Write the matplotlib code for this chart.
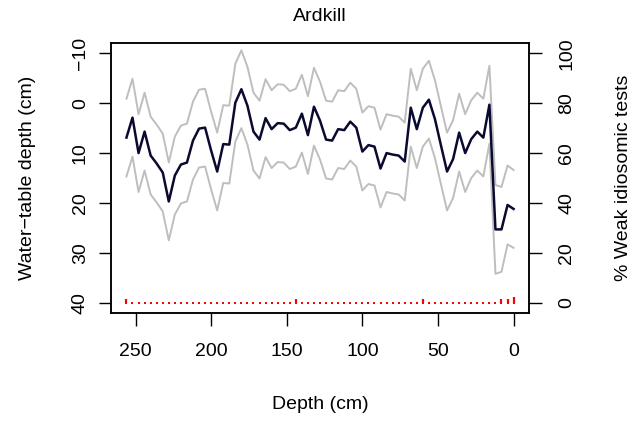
import numpy as np
import matplotlib
matplotlib.use("Agg")
import matplotlib.pyplot as plt

plt.rcParams['font.family'] = ['Liberation Sans', 'DejaVu Sans']
plt.rcParams['font.size'] = 14

# sample depths, 0 to 256 cm every 4 cm (deepest first)
depth = np.arange(256, -1, -4)

# reconstructed water-table depth (cm)
wtd = [6.9, 2.9, 10.0, 5.7, 10.5, 12.1, 13.9, 19.7, 14.5, 12.3,
       11.9, 7.5, 5.1, 4.9, 9.5, 13.7, 8.2, 8.3, -0.1, -2.8,
       0.5, 5.7, 7.3, 3.0, 5.2, 4.0, 4.1, 5.4, 4.9, 2.1,
       6.4, 0.7, 3.5, 7.3, 7.5, 5.2, 5.4, 3.7, 4.9, 9.7,
       8.4, 8.7, 13.1, 10.0, 10.3, 10.5, 11.7, 0.9, 5.2, 0.9,
       -0.7, 3.2, 8.5, 13.7, 11.2, 5.9, 10.0, 7.2, 5.7, 6.9,
       0.3, 25.3, 25.3, 20.4, 21.2]

# sample specific errors (cm)
err = [7.8] * 61 + [8.9, 8.5, 7.9, 7.8]

# % weak idiosomic tests
weak = [0.0] * 65
weak[0] = 1.3    # 256 cm
weak[28] = 1.3   # 144 cm
weak[49] = 1.3   # 60 cm
weak[62] = 1.3   # 8 cm
weak[63] = 1.3   # 4 cm
weak[64] = 2.3   # 0 cm

wtd = np.array(wtd)
err = np.array(err)
weak = np.array(weak)

fig = plt.figure(figsize=(6.41, 4.21), dpi=100)
ax = fig.add_axes([0.1732, 0.2572, 0.6521, 0.6399])

ax.plot(depth, wtd - err, color='#bebebe', lw=1.4)
ax.plot(depth, wtd + err, color='#bebebe', lw=1.4)
ax.plot(depth, wtd, color='#0a0a30', lw=1.8)

ax.set_xlim(266.2, -10.2)
ax.set_ylim(42, -12)
ax.set_xticks([250, 200, 150, 100, 50, 0])
ax.set_yticks([-10, 0, 10, 20, 30, 40])
ax.tick_params(direction='out', length=9, width=1, pad=12.5)
ax.tick_params(axis='y', labelrotation=90, pad=7)
for lab in ax.get_yticklabels():
    lab.set_verticalalignment('center')
ax.set_xlabel('Depth (cm)', labelpad=26)
ax.set_ylabel('Water\u2212table depth (cm)', labelpad=25.5)
ax.set_title('Ardkill', fontsize=14, pad=16)

# type "h" style bars, the round end caps show as dots at zero
ax2 = ax.twinx()
ax2.vlines(depth, 0, weak, colors='red', lw=1.6)
ax2.plot(depth, weak * 0, ls='none', marker='s', ms=1.6, mew=0, color='red')
ax2.set_ylim(-4, 104)
ax2.set_yticks([0, 20, 40, 60, 80, 100])
ax2.tick_params(direction='out', length=9, width=1, pad=12, labelrotation=90)
for lab in ax2.get_yticklabels():
    lab.set_verticalalignment('center')
ax2.set_ylabel('% Weak idiosomic tests', labelpad=28.5)

for a in (ax, ax2):
    for s in a.spines.values():
        s.set_linewidth(1.1)

fig.savefig('out.png', dpi=100)
